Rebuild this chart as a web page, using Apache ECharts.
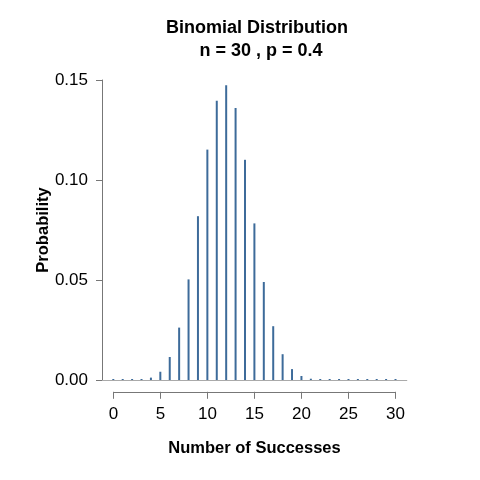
<!DOCTYPE html>
<html><head><meta charset="utf-8">
<script src="https://cdn.jsdelivr.net/npm/echarts@6/dist/echarts.min.js"></script>
<style>html,body{margin:0;padding:0;background:#fff}#c{width:480px;height:480px}</style>
</head><body><div id="c"></div>
<script>
const successes = [0,1,2,3,4,5,6,7,8,9,10,11,12,13,14,15,16,17,18,19,20,21,22,23,24,25,26,27,28,29,30];
const probabilities = [0.0000002,0.0000044,0.0000427,0.000265,0.00119,0.00413,0.0115,0.0262,0.0503,0.0819,0.1152,0.1396,0.1474,0.1360,0.1101,0.0783,0.0490,0.0269,0.0129,0.00545,0.00200,0.00064,0.00017,0.00004,0.0000078,0.0000013,0.0000002,0,0,0,0];
const xTicks = [0,5,10,15,20,25,30];
const yTicks = [0,0.05,0.10,0.15];
const titleLines = ['Binomial Distribution', 'n = 30 , p = 0.4'];

const font = 'Liberation Sans, Arial, sans-serif';
const chart = echarts.init(document.getElementById('c'), null, {renderer:'canvas'});
chart.setOption({
  animation:false,
  backgroundColor:'#fff',
  title:[
    {text:titleLines[0], left:252, top:14, textAlign:'center', textStyle:{fontFamily:font, fontSize:18, fontWeight:'bold', color:'#000'}},
    {text:titleLines[1], left:256, top:37, textAlign:'center', textStyle:{fontFamily:font, fontSize:18, fontWeight:'bold', color:'#000'}}
  ],
  grid:[
    {left:102, right:73.2, top:73.4, bottom:88.2},
    {left:113.5, right:84.5, top:73.4, bottom:88.2},
    {left:102, right:73.2, top:80, bottom:100}
  ],
  xAxis:[
    {gridIndex:0, type:'value', min:-1.2, max:31.2, show:false},
    {gridIndex:1, type:'value', min:0, max:30, interval:5,
     axisLine:{show:true, onZero:false, lineStyle:{color:'#777', width:1}},
     axisTick:{show:true, length:7, lineStyle:{color:'#777'}},
     axisLabel:{margin:14, fontFamily:font, fontSize:17, color:'#000', customValues:xTicks},
     splitLine:{show:false},
     name:'Number of Successes', nameLocation:'middle', nameGap:48, nameMoveOverlap:false,
     nameTextStyle:{fontFamily:font, fontSize:16.5, fontWeight:'bold', color:'#000'}},
    {gridIndex:2, type:'value', min:-1.2, max:31.2,
     axisLine:{show:true, onZero:false, lineStyle:{color:'#aaa', width:1}},
     axisTick:{show:false}, axisLabel:{show:false}, splitLine:{show:false}}
  ],
  yAxis:[
    {gridIndex:0, type:'value', min:-0.0059, max:0.1533, show:false},
    {gridIndex:1, type:'value', show:false},
    {gridIndex:2, type:'value', min:0, max:0.15, interval:0.05,
     axisLine:{show:true, onZero:false, lineStyle:{color:'#777', width:1}},
     axisTick:{show:true, length:6, lineStyle:{color:'#777'}},
     axisLabel:{margin:14, fontFamily:font, fontSize:17, color:'#000', formatter:v=>v.toFixed(2), customValues:yTicks},
     splitLine:{show:false},
     name:'Probability', nameLocation:'middle', nameGap:50, nameRotate:90, nameMoveOverlap:false,
     nameTextStyle:{fontFamily:font, fontSize:16.5, fontWeight:'bold', color:'#000'}}
  ],
  series:[{
    type:'bar', xAxisIndex:0, yAxisIndex:0, barWidth:2, barMinHeight:1,
    itemStyle:{color:'#3d6b9a'},
    data: successes.map((k,i)=>[k, probabilities[i]]),
    z:3
  }]
});
</script></body></html>
